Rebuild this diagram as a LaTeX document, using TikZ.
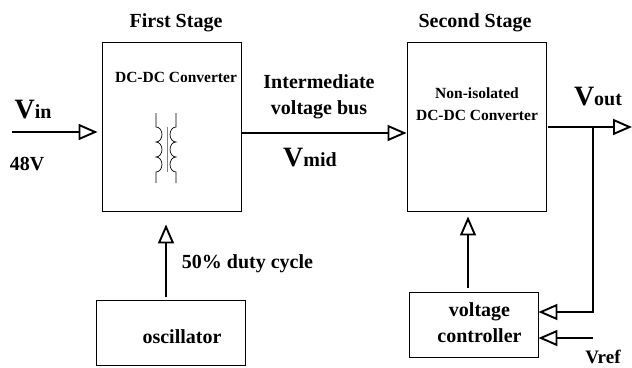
\documentclass[tikz,border=0pt]{standalone}
\usepackage{fontspec}
\setmainfont{Liberation Serif}
\usetikzlibrary{arrows.meta}

\begin{document}
\begin{tikzpicture}[x=1pt,y=-1pt,>={Triangle[open,length=19pt,width=16pt,line width=1.9pt]},line width=0.9pt]
  \tikzset{stage/.style={draw,minimum width=139pt,minimum height=169pt},
           unit/.style={draw,minimum width=#1,minimum height=65pt},
           flow/.style={->,line width=1.8pt},
           txt/.style={font=\fontsize{20}{26}\selectfont\bfseries,align=center,inner sep=0pt},
           small/.style={font=\fontsize{15.5}{22}\selectfont\bfseries,align=center,inner sep=0pt},
           big/.style={font=\fontsize{20}{24}\selectfont\bfseries,inner sep=0pt}}
  \newcommand{\bigv}{\fontsize{28}{28}\selectfont V}

  \useasboundingbox (0,0) rectangle (632,367);

  \node[stage] (first) at (171.5,126.5) {};
  \node[stage] (second) [right of=first,node distance=305pt] {};
  \node[unit=149pt] (oscillator) [below of=first,node distance=206pt,xshift=-1pt] {};
  \node[unit=129pt] (controller) [below of=second,node distance=198pt,xshift=-3pt] {};

  \node[txt] (firstname) at (176,23) {First Stage};
  \node[txt] (secondname) at (475,23) {Second Stage};
  \node[small] (dcdc) at (176,77) {DC-DC Converter};
  \node[small] (nonisolated) at (477,104) {Non-isolated\\DC-DC Converter};
  \node[txt] (oscname) at (182,337) {oscillator};
  \node[txt] (ctrlname) at (479.5,323) {voltage\\controller};
  \node[big] (vin) at (33,110) {\bigv\fontsize{20}{24}\selectfont in};
  \node[txt] (input) at (27,164) {48V};
  \node[txt] (bus) at (319,96.5) {Intermediate\\voltage bus};
  \node[big] (vmid) at (310,158) {\bigv\fontsize{20}{24}\selectfont mid};
  \node[big] (vout) at (598,97) {\bigv\fontsize{20}{24}\selectfont out};
  \node[txt] (duty) at (247.5,264) {50\% duty cycle};
  \node[txt,font=\fontsize{19}{24}\selectfont\bfseries] (vref) at (603,356.5) {Vref};

  \coordinate (vinstart) at (12,132);
  \coordinate (branch) at (593,127);
  \coordinate (voutend) at (632,127);
  \coordinate (vrefstart) at (593,338);

  \draw[flow,shorten >=4pt] (vinstart) -- (vinstart -| first.west);
  \draw[flow] ([yshift=-6.5pt]first.east) -- ([yshift=-6.5pt]second.west);
  \draw[flow,shorten <=2pt] (second.east |- branch) -- (voutend);
  \draw[flow,shorten <=3pt,shorten >=13pt] ([xshift=-4.5pt]oscillator.north) -- ([xshift=-5.5pt]first.south);
  \draw[flow,shorten <=4pt,shorten >=5pt] ([xshift=-5.5pt]controller.north) -- ([xshift=-8.5pt]second.south);
  \draw[flow] (branch) |- ([yshift=12.5pt]controller.east);
  \draw[flow] (vrefstart) -- (vrefstart -| controller.east);

  % transformer
  \draw[line width=0.7pt] (156,113) -- (156,127)
    \foreach \i in {1,2,3} { arc[start angle=90,end angle=-90,x radius=6pt,y radius=7.5pt] }
    -- (156,183);
  \draw[line width=0.7pt] (176,113) -- (176,127)
    \foreach \i in {1,2,3} { arc[start angle=90,end angle=270,x radius=6pt,y radius=7.5pt] }
    -- (176,183);
  \draw[gray,line width=1pt] (167,127) -- (167,172);
\end{tikzpicture}
\end{document}
